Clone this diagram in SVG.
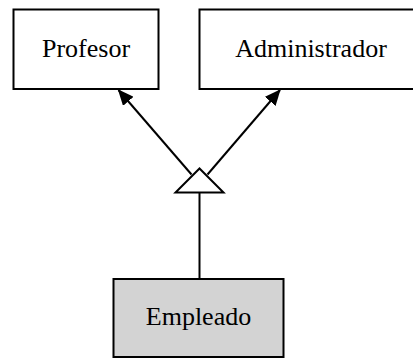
<svg xmlns="http://www.w3.org/2000/svg" width="413" height="358" viewBox="0 0 413 358">
  <style>
    .box { fill: #ffffff; stroke: #000000; stroke-width: 2; }
    .box.sub { fill: #d3d3d3; }
    .label { font-family: "Liberation Serif", "Times New Roman", serif; font-size: 26px; fill: #000000; text-anchor: middle; }
    .edge { stroke: #000000; stroke-width: 2; fill: none; }
  </style>
  <defs>
    <marker id="arrow" markerWidth="16" markerHeight="14" refX="15" refY="7" orient="auto" markerUnits="userSpaceOnUse" viewBox="0 0 16 14">
      <path d="M0,0 L16,7 L0,14 Z" fill="#000000"/>
    </marker>
  </defs>
  <rect width="413" height="358" fill="#ffffff"/>

  <g id="profesor">
    <rect class="box" x="13.5" y="9.5" width="145" height="79.5"/>
    <text class="label" x="86" y="57">Profesor</text>
  </g>

  <g id="administrador">
    <rect class="box" x="199.5" y="9.5" width="220" height="79.5"/>
    <text class="label" x="311" y="57">Administrador</text>
  </g>

  <g id="empleado">
    <rect class="box sub" x="113.5" y="279" width="170" height="78"/>
    <text class="label" x="198.5" y="325">Empleado</text>
  </g>

  <g id="connectors">
    <line class="edge" x1="199.5" y1="279" x2="199.5" y2="192.5"/>
    <polygon class="edge" points="175.5,192.5 223.5,192.5 199.5,168.5" fill="#ffffff"/>
    <line class="edge" x1="191.5" y1="174.5" x2="118.5" y2="90" marker-end="url(#arrow)"/>
    <line class="edge" x1="207.5" y1="174.5" x2="280" y2="90" marker-end="url(#arrow)"/>
  </g>
</svg>
